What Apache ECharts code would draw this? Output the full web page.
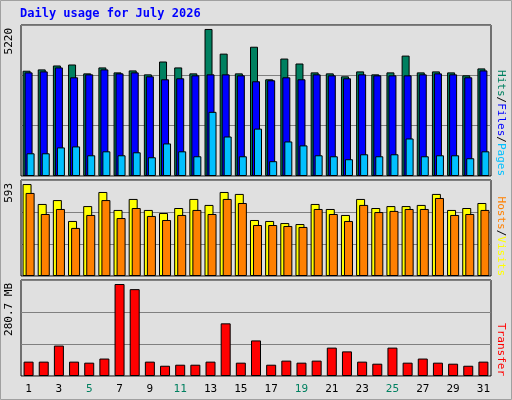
<!DOCTYPE html>
<html><head><meta charset="utf-8">
<script src="https://cdn.jsdelivr.net/npm/echarts@6/dist/echarts.min.js"></script>
<style>html,body{margin:0;padding:0;background:#e0e0e0}#c{width:512px;height:400px}</style>
</head><body><div id="c"></div>
<script>
const days = Array.from({length:31},(_,i)=>String(i+1));
const weekend = ['4','5','11','12','18','19','25','26'];
const hits = [3639,3685,3821,3855,3548,3753,3582,3650,3514,3958,3753,3548,5083,4230,3548,4469,3343,4060,3889,3582,3548,3446,3616,3514,3582,4162,3582,3616,3582,3480,3719];
const files = [3582,3616,3753,3412,3514,3685,3548,3582,3446,3343,3378,3480,3514,3514,3480,3275,3309,3412,3343,3514,3480,3378,3514,3480,3480,3480,3514,3548,3514,3412,3650];
const pages = [785,785,989,1023,716,853,716,819,648,1126,853,682,2218,1365,682,1638,512,1194,1058,716,682,580,751,682,751,1297,682,716,716,614,853];
const hosts = [568,445,469,340,432,519,408,476,408,389,420,476,439,519,507,346,340,327,321,445,414,377,476,420,432,432,439,507,408,420,451];
const visits = [513,383,414,297,377,469,358,420,371,346,377,408,383,476,451,315,315,309,303,414,383,340,439,395,402,414,414,482,377,383,408];
const transfer = [42,42,89,42,39,51,269,254,42,30,33,33,42,154,39,104,33,45,39,45,83,72,42,36,83,39,51,39,36,30,42];
const maxHits = 5220, maxVisits = 593, maxKB = 280.7;

const ch = echarts.init(document.getElementById('c'));
const mono = 'DejaVu Sans Mono';
const grids = [{left:21,right:21,top:25,height:151},{left:21,right:21,top:180,height:96},{left:21,right:21,top:280,height:96}];
const xA = i => ({type:'category',gridIndex:i,data:days,axisTick:{show:false},axisLine:{show:false},
  axisLabel:{show:i===2,fontFamily:mono,fontSize:11,margin:8,color:(v)=>weekend.includes(v)?'#008060':'#000'}});
const yA = (i,m) => ({type:'value',gridIndex:i,min:0,max:m,interval:m/3,axisLabel:{show:false},axisLine:{show:false},axisTick:{show:false},
  splitLine:{lineStyle:{color:'#808080',width:1}}});
const bs = (name,data,color,xi,w,gap) => ({type:'bar',name,data,xAxisIndex:xi,yAxisIndex:xi,barWidth:w,barGap:gap,
  itemStyle:{color,borderColor:'#000',borderWidth:1},animation:false});
ch.setOption({
  backgroundColor:'#e0e0e0',animation:false,
  grid:grids.map(g=>Object.assign({show:true,borderColor:'#000',borderWidth:1,backgroundColor:'transparent'},g)),
  xAxis:[xA(0),xA(1),xA(2)],
  yAxis:[yA(0,maxHits),yA(1,maxVisits),yA(2,maxKB)],
  series:[bs('Hits',hits,'#008060',0,8,'-75%'),bs('Files',files,'#0000ff',0,8,'-75%'),bs('Pages',pages,'#00c0ff',0,8,'-75%'),
    bs('Hosts',hosts,'#ffff00',1,9,'-66%'),bs('Visits',visits,'#ff8000',1,9,'-66%'),
    bs('Transfer',transfer,'#ff0000',2,10,'0%')],
  graphic:[
    {type:'rect',shape:{x:0.5,y:0.5,width:511,height:399},style:{fill:null,stroke:'#a0a0a0'}},
    {type:'text',left:20,top:8,style:{text:'Daily usage for July 2026',fill:'#0000ff',font:'bold 12px "DejaVu Sans Mono"'}},
    {type:'text',x:9,y:28,rotation:Math.PI/2,style:{text:String(maxHits),fill:'#000',font:'11px "DejaVu Sans Mono"',align:'right',verticalAlign:'middle'}},
    {type:'text',x:9,y:183,rotation:Math.PI/2,style:{text:String(maxVisits),fill:'#000',font:'11px "DejaVu Sans Mono"',align:'right',verticalAlign:'middle'}},
    {type:'text',x:9,y:283,rotation:Math.PI/2,style:{text:maxKB+' MB',fill:'#000',font:'11px "DejaVu Sans Mono"',align:'right',verticalAlign:'middle'}},
    {type:'text',x:501,y:176,rotation:-Math.PI/2,style:{text:'{a|Hits}{s|/}{b|Files}{s|/}{c|Pages}',align:'right',verticalAlign:'middle',
      rich:{a:{fill:'#008060',font:'11px "DejaVu Sans Mono"'},b:{fill:'#0000ff',font:'11px "DejaVu Sans Mono"'},c:{fill:'#00c0ff',font:'11px "DejaVu Sans Mono"'},s:{fill:'#000',font:'11px "DejaVu Sans Mono"'}}}},
    {type:'text',x:501,y:276,rotation:-Math.PI/2,style:{text:'{a|Hosts}{s|/}{b|Visits}',align:'right',verticalAlign:'middle',
      rich:{a:{fill:'#ff8000',font:'11px "DejaVu Sans Mono"'},b:{fill:'#ffff00',font:'11px "DejaVu Sans Mono"'},s:{fill:'#000',font:'11px "DejaVu Sans Mono"'}}}},
    {type:'text',x:501,y:376,rotation:-Math.PI/2,style:{text:'Transfer',fill:'#ff0000',font:'11px "DejaVu Sans Mono"',align:'right',verticalAlign:'middle'}}
  ]
});
</script></body></html>
